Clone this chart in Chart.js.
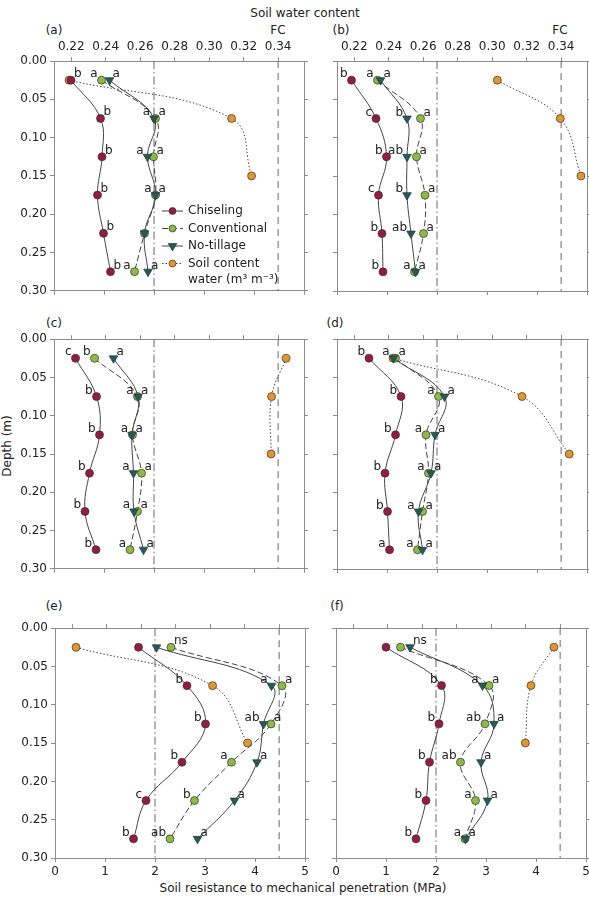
<!DOCTYPE html>
<html>
<head>
<meta charset="utf-8">
<script src="https://cdn.jsdelivr.net/npm/chart.js@4.4.0/dist/chart.umd.min.js"></script>
<style>
html, body { margin: 0; padding: 0; overflow: hidden; background: #fff; width: 589px; height: 901px; }
canvas { position: absolute; }
.t { position: absolute; font: 12px 'DejaVu Sans', sans-serif; color: #222; white-space: nowrap; transform: translate(-50%, -50%); }
</style>
</head>
<body>
<div class="t" style="left:305px;top:13px">Soil water content</div>
<div class="t" style="left:54px;top:30px">(a)</div>
<div class="t" style="left:278px;top:30px">FC</div>
<div class="t" style="left:341px;top:30px">(b)</div>
<div class="t" style="left:560px;top:30px">FC</div>
<div class="t" style="left:54px;top:323px">(c)</div>
<div class="t" style="left:335px;top:323px">(d)</div>
<div class="t" style="left:54px;top:606px">(e)</div>
<div class="t" style="left:337px;top:606px">(f)</div>
<div class="t" style="left:7px;top:446px;transform:translate(-50%,-50%) rotate(-90deg)">Depth (m)</div>
<div class="t" style="left:303px;top:888px">Soil resistance to mechanical penetration (MPa)</div>
<script>
// depths (m) of the sampled layers
const depths = [0.025, 0.075, 0.125, 0.175, 0.225, 0.275];
const waterDepths = [0.025, 0.075, 0.15];
const depthTicks = [0, 0.05, 0.1, 0.15, 0.2, 0.25, 0.3];
const resistanceTicks = [0, 1, 2, 3, 4, 5];
const waterTicks = [0.22, 0.24, 0.26, 0.28, 0.30, 0.32, 0.34];
const criticalResistance = 2;   // MPa
const fieldCapacity = 0.34;     // m3 m-3

// (a)
const chiselA = [0.34, 0.93, 0.96, 0.87, 0.99, 1.13];
const convA = [0.95, 2.03, 1.99, 2.03, 1.81, 1.61];
const noTillA = [1.11, 2.00, 1.87, 2.03, 1.81, 1.88];
const waterA = [0.2187, 0.3130, 0.3246];
const lettersChiselA = ['b', 'b', 'b', 'b', 'b', 'b'];
const lettersConvA = ['a', 'a', 'a', 'a', '', 'a'];
const lettersNoTillA = ['a', 'a', 'a', 'a', '', 'a'];
// (b)
const chiselB = [0.29, 0.78, 0.99, 0.83, 0.90, 0.92];
const convB = [0.81, 1.67, 1.59, 1.76, 1.73, 1.55];
const noTillB = [0.87, 1.40, 1.40, 1.40, 1.48, 1.57];
const waterB = [0.3030, 0.3395, 0.3515];
const lettersChiselB = ['b', 'c', 'b', 'c', 'b', 'b'];
const lettersConvB = ['a', 'a', 'a', 'a', 'a', 'a'];
const lettersNoTillB = ['a', 'b', 'ab', 'b', 'ab', 'a'];
// (c)
const chiselC = [0.43, 0.85, 0.91, 0.71, 0.62, 0.84];
const convC = [0.81, 1.67, 1.57, 1.75, 1.67, 1.52];
const noTillC = [1.19, 1.68, 1.56, 1.59, 1.60, 1.79];
const waterC = [0.3446, 0.3362, 0.3359];
const lettersChiselC = ['c', 'b', 'b', 'b', 'b', 'b'];
const lettersConvC = ['b', 'a', 'a', 'a', 'a', 'a'];
const lettersNoTillC = ['a', 'a', 'a', 'a', 'a', 'a'];
// (d)
const chiselD = [0.64, 1.28, 1.17, 0.96, 1.01, 1.05];
const convD = [1.17, 2.03, 1.78, 1.83, 1.71, 1.61];
const noTillD = [1.13, 2.15, 1.96, 1.88, 1.63, 1.71];
const waterD = [0.2425, 0.3173, 0.3447];
const lettersChiselD = ['b', 'b', 'b', 'b', 'b', 'a'];
const lettersConvD = ['a', 'a', 'a', 'a', 'a', 'a'];
const lettersNoTillD = ['a', 'a', 'a', 'a', 'a', 'a'];
// (e)
const chiselE = [1.67, 2.64, 3.01, 2.54, 1.82, 1.57];
const convE = [2.32, 4.54, 4.32, 3.53, 2.79, 2.30];
const noTillE = [2.03, 4.33, 4.17, 4.04, 3.59, 2.85];
const waterE = [0.2222, 0.3014, 0.3217];
const lettersChiselE = ['', 'b', 'b', 'b', 'c', 'b'];
const lettersConvE = ['ns', 'a', 'a', 'a', 'b', 'ab'];
const lettersNoTillE = ['', 'a', 'ab', 'a', 'a', 'a'];
// (f)
const chiselF = [1.00, 2.11, 2.06, 1.87, 1.80, 1.60];
const convF = [1.29, 3.06, 2.98, 2.49, 2.79, 2.58];
const noTillF = [1.48, 2.93, 3.16, 2.90, 3.03, 2.59];
const waterF = [0.3364, 0.3231, 0.3198];
const lettersChiselF = ['', 'b', 'b', 'b', 'b', 'b'];
const lettersConvF = ['', 'a', 'ab', 'ab', 'a', 'a'];
const lettersNoTillF = ['ns', 'a', 'a', 'a', 'a', 'a'];

Chart.defaults.font.family = "'DejaVu Sans', sans-serif";
Chart.defaults.font.size = 12;
Chart.defaults.color = '#222';

const INK = '#444';
const SPINE = '#8c8c8c';
const styles = {
  chisel: { label: 'Chiseling', fill: '#951b45', dash: [], shape: 'circle' },
  conv: { label: 'Conventional', fill: '#8cbb45', dash: [6, 3], shape: 'circle' },
  noTill: { label: 'No-tillage', fill: '#1c5f5a', dash: [], shape: 'triangle' },
  water: { label: 'Soil content', fill: '#e2972e', dash: [1.5, 2], shape: 'circle' }
};

const pts = (xs, ys) => xs.map((v, i) => ({ x: v, y: ys[i] }));

function series(key, xs, ys, letters, side, axis) {
  const s = styles[key];
  return {
    label: s.label,
    data: pts(xs, ys),
    xAxisID: axis || 'x',
    borderColor: INK,
    borderWidth: 1,
    borderDash: s.dash,
    tension: 0.4,
    pointStyle: s.shape,
    rotation: s.shape === 'triangle' ? 180 : 0,
    pointRadius: s.shape === 'triangle' ? 5 : 4,
    pointBackgroundColor: s.fill,
    pointBorderColor: '#333',
    pointBorderWidth: 0.7,
    letters: letters,
    letterSide: side
  };
}

function refLine(value, axis, dash) {
  return {
    data: [{ x: value, y: depthTicks[0] }, { x: value, y: depthTicks[depthTicks.length - 1] }],
    xAxisID: axis,
    borderColor: '#666',
    borderWidth: 1,
    borderDash: dash,
    pointRadius: 0,
    tension: 0
  };
}

// significance letters next to the points
const letterPlugin = {
  id: 'letters',
  afterDatasetsDraw(chart) {
    const ctx = chart.ctx;
    const sets = chart.data.datasets;
    const pair = sets.map((d, i) => i).filter(i => sets[i].letterSide === 'pair');
    ctx.save();
    ctx.font = "12px 'DejaVu Sans', sans-serif";
    ctx.fillStyle = '#222';
    ctx.textBaseline = 'alphabetic';
    sets.forEach((ds, i) => {
      if (!ds.letters) return;
      const els = chart.getDatasetMeta(i).data;
      ds.letters.forEach((txt, j) => {
        if (!txt) return;
        const p = els[j];
        let side = ds.letterSide;
        if (side === 'pair') {
          const other = pair.find(k => k !== i);
          const q = chart.getDatasetMeta(other).data[j];
          side = (p.x < q.x || (p.x === q.x && i > other)) ? 'left' : 'right';
        }
        if (side === 'left') {
          ctx.textAlign = 'right';
          ctx.fillText(txt, p.x - 4, p.y - 3);
        } else {
          ctx.textAlign = 'left';
          ctx.fillText(txt, p.x + 3, p.y - 3);
        }
      });
    });
    ctx.restore();
  }
};

// legend drawn inside panel (a)
const legendPlugin = {
  id: 'innerLegend',
  afterDraw(chart, args, opts) {
    if (!opts.show) return;
    const ctx = chart.ctx;
    const ca = chart.chartArea;
    const x0 = ca.left + 108, x1 = ca.left + 129, xm = ca.left + 118.5, xt = ca.left + 134;
    const rows = ['chisel', 'conv', 'noTill', 'water'];
    ctx.save();
    ctx.font = "12px 'DejaVu Sans', sans-serif";
    ctx.textBaseline = 'middle';
    ctx.textAlign = 'left';
    rows.forEach((k, i) => {
      const s = styles[k];
      const y = ca.top + 150 + i * 17.5;
      ctx.strokeStyle = INK;
      ctx.lineWidth = 1;
      ctx.setLineDash(s.dash);
      ctx.beginPath(); ctx.moveTo(x0, y); ctx.lineTo(x1, y); ctx.stroke();
      ctx.setLineDash([]);
      ctx.fillStyle = s.fill;
      ctx.strokeStyle = '#333';
      ctx.lineWidth = 0.7;
      ctx.beginPath();
      if (s.shape === 'triangle') {
        ctx.moveTo(xm - 4.3, y - 2.5); ctx.lineTo(xm + 4.3, y - 2.5); ctx.lineTo(xm, y + 5); ctx.closePath();
      } else {
        ctx.arc(xm, y, 3.5, 0, Math.PI * 2);
      }
      ctx.fill(); ctx.stroke();
      ctx.fillStyle = '#222';
      ctx.fillText(s.label, xt, y);
    });
    ctx.fillText('water (m³ m⁻³)', xt, ca.top + 150 + 3 * 17.5 + 16.5);
    ctx.restore();
  }
};

function axisBase(pos, size, showLabels, fmt, tickVals) {
  return {
    type: 'linear',
    position: pos,
    afterFit(s) { if (pos === 'left' || pos === 'right') s.width = size; else s.height = size; },
    afterBuildTicks(s) { s.ticks = tickVals.map(v => ({ value: v })); },
    grid: { drawOnChartArea: false, drawTicks: true, tickLength: 4, color: SPINE, tickWidth: 1 },
    border: { display: true, color: SPINE, width: 1 },
    ticks: { display: showLabels, padding: 3, maxRotation: 0, autoSkip: false, color: '#222', callback: fmt }
  };
}

const PW = 250, PH = 230;

function panel(p) {
  const wl = p.col === 0 ? 50 : 10, wr = 10;
  const ht = p.row === 0 ? 30 : 10, hb = p.row === 2 ? 25 : 10;
  const canvas = document.createElement('canvas');
  canvas.width = wl + PW + wr;
  canvas.height = ht + PH + hb;
  canvas.style.left = (p.left - wl) + 'px';
  canvas.style.top = (p.top - ht) + 'px';
  document.body.appendChild(canvas);

  const fx = v => v.toFixed(2);
  const fi = v => String(v);
  const x = axisBase('bottom', hb, p.row === 2, fi, resistanceTicks);
  x.min = 0; x.max = 5;
  const x2 = axisBase('top', ht, p.row === 0, fx, waterTicks);
  x2.min = 0.21; x2.max = 0.355;
  const y = axisBase('left', wl, p.col === 0, fx, depthTicks);
  y.min = 0; y.max = 0.3; y.reverse = true;
  const y2 = axisBase('right', wr, false, fx, depthTicks);
  y2.min = 0; y2.max = 0.3; y2.reverse = true;

  new Chart(canvas, {
    type: 'line',
    data: {
      datasets: [
        series('chisel', p.chisel, depths, p.lChisel, p.chiselSide),
        series('noTill', p.noTill, depths, p.lNoTill, 'pair'),
        series('conv', p.conv, depths, p.lConv, 'pair'),
        series('water', p.water, waterDepths, null, null, 'x2'),
        refLine(fieldCapacity, 'x2', [7, 5]),
        refLine(criticalResistance, 'x', [8, 3, 1.5, 3])
      ]
    },
    options: {
      responsive: false,
      animation: false,
      events: [],
      layout: { padding: 0 },
      scales: { x: x, x2: x2, y: y, y2: y2 },
      plugins: {
        legend: { display: false },
        tooltip: { enabled: false },
        innerLegend: { show: !!p.legend }
      }
    },
    plugins: [letterPlugin, legendPlugin]
  });
}

panel({ row: 0, col: 0, left: 54, top: 61, chisel: chiselA, conv: convA, noTill: noTillA, water: waterA,
  lChisel: lettersChiselA, lConv: lettersConvA, lNoTill: lettersNoTillA, chiselSide: 'right', legend: true });
panel({ row: 0, col: 1, left: 337, top: 61, chisel: chiselB, conv: convB, noTill: noTillB, water: waterB,
  lChisel: lettersChiselB, lConv: lettersConvB, lNoTill: lettersNoTillB, chiselSide: 'left' });
panel({ row: 1, col: 0, left: 54, top: 339, chisel: chiselC, conv: convC, noTill: noTillC, water: waterC,
  lChisel: lettersChiselC, lConv: lettersConvC, lNoTill: lettersNoTillC, chiselSide: 'left' });
panel({ row: 1, col: 1, left: 337, top: 339, chisel: chiselD, conv: convD, noTill: noTillD, water: waterD,
  lChisel: lettersChiselD, lConv: lettersConvD, lNoTill: lettersNoTillD, chiselSide: 'left' });
panel({ row: 2, col: 0, left: 55, top: 628, chisel: chiselE, conv: convE, noTill: noTillE, water: waterE,
  lChisel: lettersChiselE, lConv: lettersConvE, lNoTill: lettersNoTillE, chiselSide: 'left' });
panel({ row: 2, col: 1, left: 336, top: 628, chisel: chiselF, conv: convF, noTill: noTillF, water: waterF,
  lChisel: lettersChiselF, lConv: lettersConvF, lNoTill: lettersNoTillF, chiselSide: 'left' });
</script>
</body>
</html>
